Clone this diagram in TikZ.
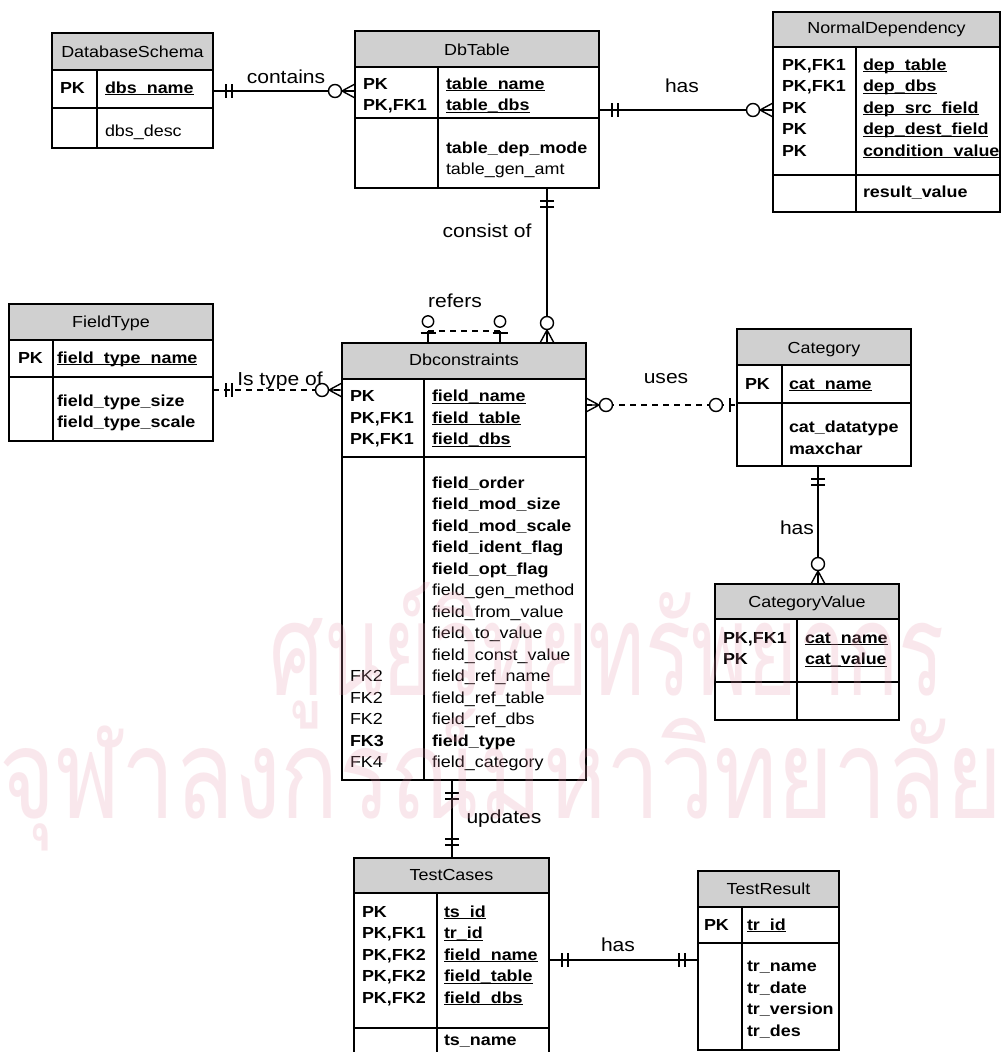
\documentclass[tikz,border=0pt]{standalone}
\usepackage{fontspec}
\setmainfont{Liberation Sans}[FakeStretch=1.12]
\newfontfamily\thaifont[Script=Thai]{Loma}
\usepackage{graphicx}
\definecolor{hdrgray}{RGB}{208,208,208}
\definecolor{wmpink}{RGB}{232,150,170}
\newcommand\ulx[1]{\setbox0=\hbox{#1}\rlap{\rule[-2.3pt]{\wd0}{1.1pt}}\box0}
% name, x1, y1, x2, y2, header bottom, key separator, column divider
\newcommand\ertab[8]{%
  \fill[white] (#2,#3) rectangle (#4,#5);
  \fill[hdrgray] (#2,#3) rectangle (#4,#6);
  \draw[edge] (#2,#6) -- (#4,#6) (#2,#7) -- (#4,#7) (#8,#6) -- (#8,#5);
  \node[frame, minimum width={#4-#2}, minimum height={#5-#3}] (#1) at ({(#2+#4)/2},{(#3+#5)/2}) {};
}
% name prefix, x, first baseline, list of lines
\newcommand\txtlines[4]{%
  \foreach \t [count=\i from 0] in {#4}
    \node[txt, anchor=base west, name=#1-\i] at (#2, {#3+21.5*\i}) {\t};
}
\begin{document}
\begin{tikzpicture}[x=1pt,y=-1pt,
  edge/.style={line width=1.2pt},
  frame/.style={draw, line width=1.2pt, inner sep=0pt, outer sep=0pt},
  conn/.style={line width=1.4pt},
  sym/.style={line width=1.4pt, solid},
  txt/.style={font=\fontsize{16}{19}\selectfont, inner sep=0pt, outer sep=0pt},
  lbl/.style={font=\fontsize{18.8}{22}\selectfont, inner sep=0pt},
  wm/.style={text=wmpink, text opacity=0.22, inner sep=0pt},
  mbar/.pic={\draw[sym] (13,-7) -- (13,7) (19,-7) -- (19,7);},
  zmany/.pic={\draw[sym] (0,-7) -- (13,0) -- (0,7) (0,0) -- (13,0);
              \draw[sym, fill=white] (20,0) circle[radius=6.5pt];},
  zoneA/.pic={\draw[sym] (7,-7) -- (7,7);
              \draw[sym, fill=white] (21,0) circle[radius=6.5pt];},
  zoneB/.pic={\draw[sym] (10,-7.5) -- (10,7.5);
              \draw[sym, fill=white] (21.5,0) circle[radius=5.7pt];}
]
\useasboundingbox (0,0) rectangle (1003,1052);
\clip (0,0) rectangle (1003,1052);
\fill[white] (0,0) rectangle (1003,1052);

% ---------- tables ----------
\ertab{dbs}{52}{33}{213}{148}{70}{108}{97}
\node[txt, anchor=base] (dbsh) at (132.5,57) {DatabaseSchema};
\txtlines{dbsk}{60}{93}{\textbf{PK}}
\txtlines{dbsf}{105}{93}{\textbf{\ulx{dbs\_name}}}
\txtlines{dbsa}{105}{136}{dbs\_desc}

\ertab{dbt}{355}{31}{599}{188}{67}{118}{438}
\node[txt, anchor=base] (dbth) at (477,55) {DbTable};
\txtlines{dbtk}{363}{89}{\textbf{PK},\textbf{PK,FK1}}
\txtlines{dbtf}{446}{89}{\textbf{\ulx{table\_name}},\textbf{\ulx{table\_dbs}}}
\txtlines{dbta}{446}{153}{\textbf{table\_dep\_mode},table\_gen\_amt}

\ertab{nd}{773}{12}{1000}{212}{47}{175}{856}
\node[txt, anchor=base] (ndh) at (886.5,33) {NormalDependency};
\txtlines{ndk}{782}{70}{\textbf{PK,FK1},\textbf{PK,FK1},\textbf{PK},\textbf{PK},\textbf{PK}}
\txtlines{ndf}{863}{70}{\textbf{\ulx{dep\_table}},\textbf{\ulx{dep\_dbs}},\textbf{\ulx{dep\_src\_field}},\textbf{\ulx{dep\_dest\_field}},\textbf{\ulx{condition\_value}}}
\txtlines{nda}{863}{197}{\textbf{result\_value}}

\ertab{ft}{9}{304}{213}{441}{340}{377}{53}
\node[txt, anchor=base] (fth) at (111,327) {FieldType};
\txtlines{ftk}{18}{363}{\textbf{PK}}
\txtlines{ftf}{57}{363}{\textbf{\ulx{field\_type\_name}}}
\txtlines{fta}{57}{406}{\textbf{field\_type\_size},\textbf{field\_type\_scale}}

\ertab{dcs}{342}{343}{586}{780}{379}{457}{424}
\node[txt, anchor=base] (dcsh) at (464,365) {Dbconstraints};
\txtlines{dcsk}{350}{401.5}{\textbf{PK},\textbf{PK,FK1},\textbf{PK,FK1}}
\txtlines{dcsf}{432}{401.5}{\textbf{\ulx{field\_name}},\textbf{\ulx{field\_table}},\textbf{\ulx{field\_dbs}}}
\txtlines{dcsa}{432}{488}{\textbf{field\_order},\textbf{field\_mod\_size},\textbf{field\_mod\_scale},\textbf{field\_ident\_flag},\textbf{field\_opt\_flag},field\_gen\_method,field\_from\_value,field\_to\_value,field\_const\_value,field\_ref\_name,field\_ref\_table,field\_ref\_dbs,\textbf{field\_type},field\_category}
\txtlines{dcsb}{350}{681.5}{FK2,FK2,FK2,\textbf{FK3},FK4}

\ertab{cat}{737}{329}{911}{466}{365}{403}{782}
\node[txt, anchor=base] (cath) at (824,353) {Category};
\txtlines{catk}{745}{389}{\textbf{PK}}
\txtlines{catf}{789}{389}{\textbf{\ulx{cat\_name}}}
\txtlines{cata}{789}{432.5}{\textbf{cat\_datatype},\textbf{maxchar}}

\ertab{cv}{715}{584}{899}{720}{619}{682}{797}
\node[txt, anchor=base] (cvh) at (807,607) {CategoryValue};
\txtlines{cvk}{723}{643}{\textbf{PK,FK1},\textbf{PK}}
\txtlines{cvf}{805}{643}{\textbf{\ulx{cat\_name}},\textbf{\ulx{cat\_value}}}

\ertab{tc}{354}{858}{549}{1070}{893}{1028}{437}
\node[txt, anchor=base] (tch) at (451.5,880) {TestCases};
\txtlines{tck}{362}{917}{\textbf{PK},\textbf{PK,FK1},\textbf{PK,FK2},\textbf{PK,FK2},\textbf{PK,FK2}}
\txtlines{tcf}{444}{917}{\textbf{\ulx{ts\_id}},\textbf{\ulx{tr\_id}},\textbf{\ulx{field\_name}},\textbf{\ulx{field\_table}},\textbf{\ulx{field\_dbs}}}
\txtlines{tca}{444}{1045}{\textbf{ts\_name}}

\ertab{tr}{698}{871}{839}{1050}{907}{943}{742}
\node[txt, anchor=base] (trh) at (768.5,894) {TestResult};
\txtlines{trk}{704}{930}{\textbf{PK}}
\txtlines{trf}{747}{930}{\textbf{\ulx{tr\_id}}}
\txtlines{tra}{747}{971.5}{\textbf{tr\_name},\textbf{tr\_date},\textbf{tr\_version},\textbf{tr\_des}}

% ---------- connector guide coordinates ----------
\coordinate (k1) at (0,91);
\coordinate (k2) at (0,110);
\coordinate (k3) at (547,0);
\coordinate (k4) at (0,390);
\coordinate (k5) at (0,405);
\coordinate (k6) at (818,0);
\coordinate (k7) at (452,0);
\coordinate (k8) at (0,960);
\coordinate (r1) at (428,331);
\coordinate (r2) at (500,331);

% ---------- connectors ----------
\draw[conn] (dbs.east |- k1) -- (dbt.west |- k1);
\draw[conn] (dbt.east |- k2) -- (nd.west |- k2);
\draw[conn] (dbt.south -| k3) -- (dcs.north -| k3);
\draw[conn, dashed, dash pattern=on 6pt off 5pt] (ft.east |- k4) -- (dcs.west |- k4);
\draw[conn, dashed, dash pattern=on 6pt off 5pt] (dcs.east |- k5) -- (cat.west |- k5);
\draw[conn] (cat.south -| k6) -- (cv.north -| k6);
\draw[conn] (dcs.south -| k7) -- (tc.north -| k7);
\draw[conn] (tc.east |- k8) -- (tr.west |- k8);
\draw[conn, dashed, dash pattern=on 6pt off 5pt] (r1) -- (r2);
\draw[conn] (dcs.north -| r1) -- (r1);
\draw[conn] (dcs.north -| r2) -- (r2);

% ---------- end symbols ----------
\pic at (dbs.east |- k1) {mbar};
\pic[rotate=180] at (dbt.west |- k1) {zmany};
\pic at (dbt.east |- k2) {mbar};
\pic[rotate=180] at (nd.west |- k2) {zmany};
\pic[rotate=-90] at (dbt.south -| k3) {mbar};
\pic[rotate=90] at (dcs.north -| k3) {zmany};
\pic at (ft.east |- k4) {mbar};
\pic[rotate=180] at (dcs.west |- k4) {zmany};
\pic at (dcs.east |- k5) {zmany};
\pic[rotate=180] at (cat.west |- k5) {zoneA};
\pic[rotate=-90] at (cat.south -| k6) {mbar};
\pic[rotate=90] at (cv.north -| k6) {zmany};
\pic[rotate=-90] at (dcs.south -| k7) {mbar};
\pic[rotate=90] at (tc.north -| k7) {mbar};
\pic at (tc.east |- k8) {mbar};
\pic[rotate=180] at (tr.west |- k8) {mbar};
\pic[rotate=90] at (dcs.north -| r1) {zoneB};
\pic[rotate=90] at (dcs.north -| r2) {zoneB};

% ---------- connector labels ----------
\node[lbl, anchor=base] (lcontains) at (286,83) {contains};
\node[lbl, anchor=base] (lhas1) at (682,92) {has};
\node[lbl, anchor=base] (lconsist) at (487,237) {consist of};
\node[lbl, anchor=base] (lrefers) at (455,307) {refers};
\node[lbl, anchor=base] (ltype) at (280,385) {Is type of};
\node[lbl, anchor=base] (luses) at (666,383) {uses};
\node[lbl, anchor=base] (lhas2) at (797,534) {has};
\node[lbl, anchor=base] (lupdates) at (504,823) {updates};
\node[lbl, anchor=base] (lhas3) at (618,951) {has};

% ---------- watermark ----------
\node[wm, anchor=base] (wm1) at (607,695) {\scalebox{1}[1.5]{\resizebox{675pt}{!}{\thaifont ศูนย์วิทยทรัพยากร}}};
\node[wm, anchor=base] (wm2) at (501,818) {\scalebox{1}[1.3]{\resizebox{1003pt}{!}{\thaifont จุฬาลงกรณ์มหาวิทยาลัย}}};
\end{tikzpicture}
\end{document}
